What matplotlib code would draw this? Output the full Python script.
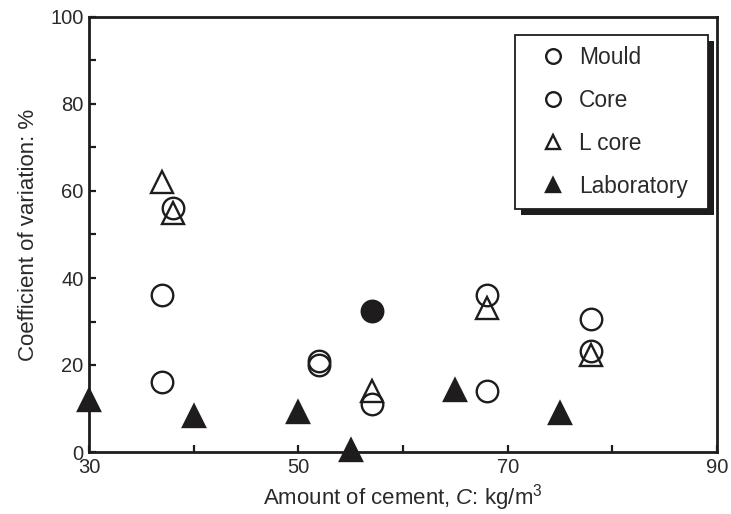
import matplotlib
matplotlib.use("Agg")
import matplotlib.pyplot as plt
from matplotlib.ticker import FixedLocator
from matplotlib.patches import Rectangle

plt.rcParams["font.family"] = ["Liberation Sans", "DejaVu Sans"]
plt.rcParams["mathtext.fontset"] = "custom"
plt.rcParams["mathtext.rm"] = "Liberation Sans"
plt.rcParams["mathtext.it"] = "Liberation Sans:italic"

# Coefficient of variation (%) against cement content (kg/m3)
mould_x = [37, 52, 57, 68, 78]
mould_y = [16, 20, 11, 14, 23.3]
core_x = [37, 38, 52, 68, 78]
core_y = [36, 56, 21, 36, 30.5]
lcore_x = [37, 38, 57, 68, 78]
lcore_y = [62, 55, 14, 33, 22.4]
lab_x = [30, 40, 50, 55, 65, 75]
lab_y = [12, 8.3, 9.2, 0.5, 14.3, 9]
extra_x = [57]
extra_y = [32.5]

x_major = [30, 50, 70, 90]
x_minor = [40, 60, 80]
y_major = [0, 20, 40, 60, 80, 100]
y_minor = [10, 30, 50, 70, 90]

TXT = "#2a2a2a"
INK = "#1e1c1d"

fig = plt.figure(figsize=(7.31, 5.14), dpi=100)
ax = fig.add_axes([89 / 731, 62 / 514, 628 / 731, 435 / 514])

ms = 15.5
common = dict(linestyle="none", markersize=ms, markeredgewidth=1.7,
              markeredgecolor=INK, clip_on=False, zorder=3)
ax.plot(mould_x, mould_y, marker="o", markerfacecolor="none", label="Mould", **common)
ax.plot(core_x, core_y, marker="o", markerfacecolor="none", label="Core", **common)
ax.plot(lcore_x, lcore_y, marker="^", markerfacecolor="none", label="L core", **common)
ax.plot(lab_x, lab_y, marker="^", markerfacecolor=INK, label="Laboratory", **common)
ax.plot(extra_x, extra_y, marker="o", markerfacecolor=INK, **common)

ax.set_xlim(30, 90)
ax.set_ylim(0, 100)
ax.xaxis.set_major_locator(FixedLocator(x_major))
ax.xaxis.set_minor_locator(FixedLocator(x_minor))
ax.yaxis.set_major_locator(FixedLocator(y_major))
ax.yaxis.set_minor_locator(FixedLocator(y_minor))
ax.tick_params(which="both", direction="in", length=5, width=1.6, color=INK,
               top=False, right=False)
ax.tick_params(which="major", labelsize=14.5, labelcolor=TXT, pad=4)
for s in ax.spines.values():
    s.set_linewidth(2.0)
    s.set_color(INK)

ax.set_xlabel(r"Amount of cement, $\mathit{C}$: kg/m$^3$", fontsize=16, color=TXT, labelpad=4)
ax.set_ylabel("Coefficient of variation: %", fontsize=16, color=TXT, labelpad=8)

leg = ax.legend(loc="upper left", bbox_to_anchor=(515 / 731, 1 - 35 / 514),
                bbox_transform=fig.transFigure, borderaxespad=0,
                frameon=False, fontsize=16.4,
                markerscale=0.68, borderpad=0.5, handlelength=2.3,
                handletextpad=0.0, labelspacing=0.87)
for t in leg.get_texts():
    t.set_color(TXT)
leg.set_zorder(7)

# legend frame with a solid drop shadow, sized from the rendered legend
fig.canvas.draw()
bb = leg.get_window_extent()
extra_w = 9
frame = Rectangle((bb.x0, bb.y0), bb.width + extra_w, bb.height, transform=None,
                  facecolor="white", edgecolor=INK, linewidth=1.3, zorder=6,
                  clip_on=False)
shadow = Rectangle((bb.x0 + 6, bb.y0 - 6), bb.width + extra_w, bb.height, transform=None,
                   facecolor=INK, edgecolor="none", zorder=5.5, clip_on=False)
ax.add_artist(shadow)
ax.add_artist(frame)

fig.savefig("out.png", dpi=100)
